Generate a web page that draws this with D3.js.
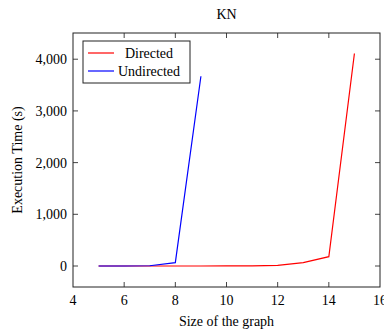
<!DOCTYPE html>
<html>
<head>
<meta charset="utf-8">
<script src="https://cdn.jsdelivr.net/npm/d3@7"></script>
<style>
  body { margin: 0; background: #fff; }
</style>
</head>
<body>
<svg id="chart" width="384" height="333"></svg>
<script>
// data
const sizes = [5, 6, 7, 8, 9, 10, 11, 12, 13, 14, 15];
const directed = [0, 0, 0, 0, 0, 1, 3, 12, 65, 180, 4110];
const undirectedSizes = [5, 6, 7, 8, 9];
const undirected = [0, 0, 5, 65, 3670];
const xTicks = [4, 6, 8, 10, 12, 14, 16];
const yTicks = [0, 1000, 2000, 3000, 4000];

const fs = 14;
const svg = d3.select("#chart")
  .attr("font-family", "'Liberation Serif', 'Times New Roman', Times, serif");
const mLeft = 73, mRight = 380, mTop = 33, mBottom = 287;

const x = d3.scaleLinear().domain([4, 16]).range([mLeft, mRight]);
const y = d3.scaleLinear().domain([-406, 4507]).range([mBottom, mTop]);
const fmt = d3.format(",");

// title
svg.append("text").attr("x", (mLeft + mRight) / 2).attr("y", 19)
  .attr("text-anchor", "middle").attr("font-size", fs).text("KN");

// axes (ticks inside, mirrored on top/right)
const tl = 5;
const axisG = svg.append("g");
xTicks.forEach(t => {
  if (t === 4 || t === 16) return;
  axisG.append("line").attr("x1", x(t)).attr("x2", x(t)).attr("y1", mBottom).attr("y2", mBottom - tl).attr("stroke", "#444");
  axisG.append("line").attr("x1", x(t)).attr("x2", x(t)).attr("y1", mTop).attr("y2", mTop + tl).attr("stroke", "#444");
});
yTicks.forEach(t => {
  axisG.append("line").attr("x1", mLeft).attr("x2", mLeft + tl).attr("y1", y(t)).attr("y2", y(t)).attr("stroke", "#444");
  axisG.append("line").attr("x1", mRight).attr("x2", mRight - tl).attr("y1", y(t)).attr("y2", y(t)).attr("stroke", "#444");
});
xTicks.forEach(t => {
  svg.append("text").attr("x", x(t)).attr("y", mBottom + 18)
    .attr("text-anchor", "middle").attr("font-size", fs).text(t);
});
yTicks.forEach(t => {
  svg.append("text").attr("x", mLeft - 6).attr("y", y(t) + 5)
    .attr("text-anchor", "end").attr("font-size", fs).text(fmt(t));
});

// lines
const line = d3.line().x(d => x(d[0])).y(d => y(d[1]));
svg.append("path").datum(sizes.map((s, i) => [s, directed[i]]))
  .attr("d", line).attr("fill", "none").attr("stroke", "red").attr("stroke-width", 1.2);
svg.append("path").datum(undirectedSizes.map((s, i) => [s, undirected[i]]))
  .attr("d", line).attr("fill", "none").attr("stroke", "blue").attr("stroke-width", 1.2);

// frame
svg.append("rect").attr("x", mLeft).attr("y", mTop).attr("width", mRight - mLeft).attr("height", mBottom - mTop)
  .attr("fill", "none").attr("stroke", "#222").attr("stroke-width", 1);

// axis labels
svg.append("text").attr("x", (mLeft + mRight) / 2).attr("y", 326)
  .attr("text-anchor", "middle").attr("font-size", fs).text("Size of the graph");
svg.append("text").attr("transform", `translate(22,${(mTop + mBottom) / 2}) rotate(-90)`)
  .attr("text-anchor", "middle").attr("font-size", fs).text("Execution Time (s)");

// legend
const lg = svg.append("g");
lg.append("rect").attr("x", 83).attr("y", 41).attr("width", 107).attr("height", 42)
  .attr("fill", "#fff").attr("stroke", "#222");
[["Directed", "red"], ["Undirected", "blue"]].forEach((e, i) => {
  const yy = 53 + i * 18;
  lg.append("line").attr("x1", 88).attr("x2", 114).attr("y1", yy).attr("y2", yy)
    .attr("stroke", e[1]).attr("stroke-width", 1.2);
  lg.append("text").attr("x", 149).attr("y", yy + 5).attr("text-anchor", "middle")
    .attr("font-size", fs).text(e[0]);
});
</script>
</body>
</html>
